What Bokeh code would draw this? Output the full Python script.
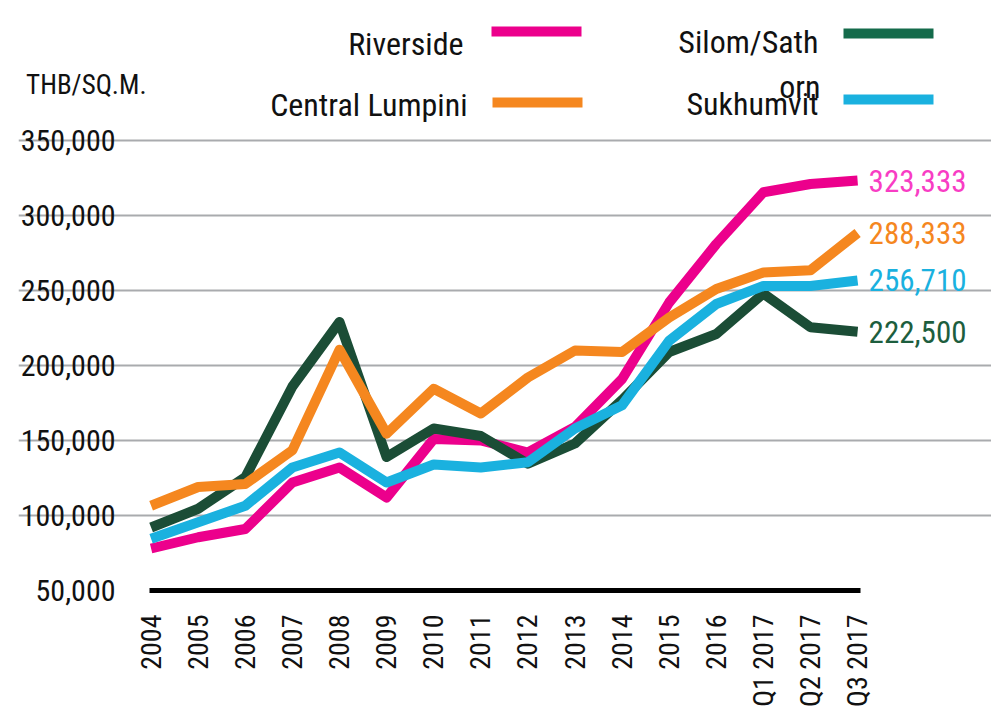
import math
from bokeh.plotting import figure
from bokeh.models import Range1d, FixedTicker, NumeralTickFormatter, Label, Arrow
from bokeh.embed import file_html
from bokeh.resources import INLINE

# ---------------- data ----------------
categories = ["2004", "2005", "2006", "2007", "2008", "2009", "2010", "2011",
              "2012", "2013", "2014", "2015", "2016", "Q1 2017", "Q2 2017", "Q3 2017"]
riverside = [78000, 85500, 91000, 122000, 132000, 112000, 151000, 150000,
             142000, 159000, 191000, 242000, 281000, 315500, 321000, 323333]
silom = [92000, 104500, 125500, 186000, 229000, 139000, 158000, 153000,
         134500, 148000, 177000, 209000, 221000, 248000, 225500, 222500]
central = [106500, 119000, 121000, 143500, 210500, 154500, 184500, 168000,
           192000, 210000, 209000, 232000, 251000, 262000, 263500, 288333]
sukhumvit = [84500, 95500, 106500, 132000, 142000, 122000, 134000, 132000,
             135500, 158000, 173500, 216500, 241000, 253000, 253000, 256710]
y_ticks = [50000, 100000, 150000, 200000, 250000, 300000, 350000]
unit_label = "THB/SQ.M."

series = [
    ("Riverside", riverside, "#EC008C", "#F83DC4", "#EC008C"),
    ("Silom/Sathorn", silom, "#1B4D36", "#1D5E3E", "#146B4B"),
    ("Central Lumpini", central, "#F5871F", "#F5871F", "#F5871F"),
    ("Sukhumvit", sukhumvit, "#1AB1DF", "#1AB1DF", "#1AB1DF"),
]

FONT = "Roboto Condensed, DejaVu Sans Condensed, Liberation Sans Narrow, Roboto, sans-serif"

# ---------------- layout (pixels on the page; the page itself has no margin) ----------------
W, H = 991, 711
ML, MR, MT, MB = 18, 0, 0, 121
FW, FH = W - ML - MR, H - MT - MB
PX_FIRST, PX_STEP = 150.6, 47.1          # first category position, spacing
PY_BOTTOM, PY_PER_UNIT = 590.0, 1.5 / 1000.0

frame_left_px, frame_right_px = ML, ML + FW
frame_top_px, frame_bottom_px = MT, MT + FH
x0 = (frame_left_px - PX_FIRST) / PX_STEP
x1 = (frame_right_px - PX_FIRST) / PX_STEP
y0 = y_ticks[0] - (frame_bottom_px - PY_BOTTOM) / PY_PER_UNIT
y1 = y_ticks[0] + (PY_BOTTOM - frame_top_px) / PY_PER_UNIT

def dx(px):
    return (px - PX_FIRST) / PX_STEP

def dy(py):
    return y_ticks[0] + (PY_BOTTOM - py) / PY_PER_UNIT

p = figure(width=W, height=H, output_backend="svg", toolbar_location=None,
           x_range=Range1d(x0, x1), y_range=Range1d(y0, y1),
           min_border_left=ML, min_border_right=MR, min_border_top=MT, min_border_bottom=MB)
p.outline_line_color = None
p.background_fill_color = "white"
p.border_fill_color = "white"

xs = list(range(len(categories)))

# x axis
p.xaxis.ticker = FixedTicker(ticks=xs)
p.xaxis.bounds = (xs[0] - 0.03, xs[-1] + 0.065)
p.xaxis.major_label_overrides = {i: c for i, c in enumerate(categories)}
p.xaxis.major_label_orientation = math.pi / 2
p.xaxis.major_label_text_font = FONT
p.xaxis.major_label_text_font_size = "28px"
p.xaxis.major_label_text_color = "#111111"
p.xaxis.major_label_standoff = 24
p.xaxis.major_tick_line_color = None
p.xaxis.minor_tick_line_color = None
p.xaxis.major_tick_out = 0
p.xaxis.major_tick_in = 0
p.xaxis.axis_line_color = "black"
p.xaxis.axis_line_width = 5

# y axis (labels pulled into the chart area so the unit label fits on the left)
p.yaxis.ticker = FixedTicker(ticks=y_ticks)
p.yaxis.formatter = NumeralTickFormatter(format="0,0")
p.yaxis.major_label_text_font = FONT
p.yaxis.major_label_text_font_size = "30px"
p.yaxis.major_label_text_color = "#111111"
p.yaxis.major_label_standoff = -int(115 - frame_left_px)
p.yaxis.axis_line_color = None
p.yaxis.major_tick_line_color = None
p.yaxis.minor_tick_line_color = None
p.yaxis.major_tick_out = 0
p.yaxis.major_tick_in = 0

p.xgrid.grid_line_color = None
p.ygrid.ticker = FixedTicker(ticks=y_ticks[1:])
p.ygrid.bounds = (xs[0], xs[-1])
p.ygrid.grid_line_color = "#A9ABAE"
p.ygrid.grid_line_width = 2

# lines
for name, vals, lc, tc, sc in series:
    p.line(xs, vals, line_color=lc, line_width=10, line_join="round", line_cap="butt")

# end value labels
for name, vals, lc, tc, sc in series:
    p.add_layout(Label(x=xs[-1], y=vals[-1], text=f"{vals[-1]:,}", x_offset=11,
                       text_baseline="middle", text_align="left", text_font=FONT,
                       text_font_size="31px", text_color=tc))

# unit label
p.add_layout(Label(x=dx(146), y=dy(84), text=unit_label, text_align="right",
                   text_baseline="alphabetic", text_font=FONT, text_font_size="27px",
                   text_color="#111111"))

# legend (text left of swatch)
legend_items = [
    ("Riverside", 463, 43, 491, 581, 31, series[0][4]),
    ("Central Lumpini", 467, 104, 492, 582, 102, series[2][4]),
    ("Silom/Sath", 818, 41, 843, 933, 33, series[1][4]),
    ("Sukhumvit", 818, 103, 843, 933, 99, series[3][4]),
]
for text, tx, ty, sx0, sx1, sy, col in legend_items:
    p.add_layout(Label(x=dx(tx), y=dy(ty), text=text, text_align="right",
                       text_baseline="alphabetic", text_font=FONT,
                       text_font_size="32px", text_color="#111111"))
    p.add_layout(Arrow(x_start=dx(sx0), y_start=dy(sy), x_end=dx(sx1), y_end=dy(sy),
                       start=None, end=None, line_color=col, line_width=10))
p.add_layout(Label(x=dx(820), y=dy(86), text="orn", text_align="right",
                   text_baseline="alphabetic", text_font=FONT,
                   text_font_size="32px", text_color="#111111"))

open("out.html", "w").write(file_html(p, INLINE))
